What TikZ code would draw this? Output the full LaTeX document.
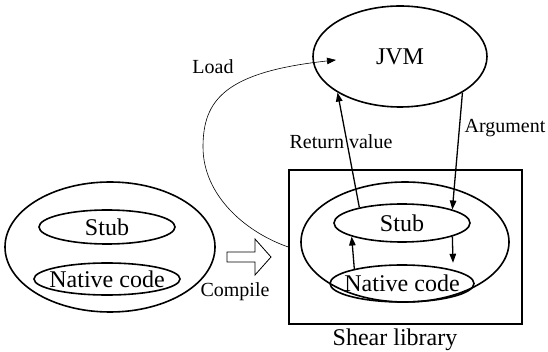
\documentclass[tikz,border=0pt]{standalone}
\usepackage{fontspec}
\setmainfont{Liberation Serif}
\usetikzlibrary{shapes.geometric,arrows.meta,calc}
\begin{document}
\begin{tikzpicture}[x=1pt,y=-1pt,
  oval/.style={draw, ellipse, line width=1.6pt, inner sep=0pt},
  big/.style={font=\fontsize{24}{28}\selectfont, inner sep=0pt},
  small/.style={font=\fontsize{20}{24}\selectfont, inner sep=0pt},
  tip/.style={-{Triangle[length=9pt,width=6.5pt]}},
  flow/.style={tip, line width=1.3pt},
]
\useasboundingbox (0,0) rectangle (548,352);

% source side: stub and native code
\node[oval, minimum width=210, minimum height=130] (outerL) at (110,247) {};
\node[oval, minimum width=136, minimum height=34] (stubL) at (107,227) {};
\node[oval, minimum width=146, minimum height=32] (nativeL) at (107,279) {};
\node[big] (stubLT) at (stubL.center) {Stub};
\node[big] (natLT) at (nativeL.center) {Native code};

% compile step
\draw[line width=0.8pt] (227,252) -- (255,252) -- (255,239) -- (271,257)
  -- (255,275) -- (255,262) -- (227,262) -- cycle;
\node[small] (compT) at (235,292) {Compile};

% shared library
\node[draw, line width=1.5pt, minimum width=233, minimum height=154, inner sep=0pt] (lib) at (405.5,247) {};
\node[big] (libT) at (395,340) {Shear library};
\node[oval, minimum width=208, minimum height=120] (outerR) at (405,242) {};
\node[oval, minimum width=136, minimum height=38] (stubR) at (402,223) {};
\node[oval, minimum width=144, minimum height=37] (nativeR) at (402,283.5) {};
\node[big] (stubRT) at (stubR.center) {Stub};
\node[big] (natRT) at (nativeR.center) {Native code};

% virtual machine
\node[oval, minimum width=174, minimum height=101] (jvm) at (400,56.5) {};
\node[big] (jvmT) at (jvm.center) {JVM};

% labels
\node[small] (loadT) at (213,67) {Load};
\node[small] (retT) at (341,142) {Return value};
\node[small] (argT) at (505,128) {Argument};

% calls between the layers
\draw[flow] (stubR.160) -- (jvm.210);
\draw[flow] (jvm.330) -- (stubR.15);
\draw[flow] (nativeR.163) -- (stubR.195);
\draw[flow, shorten >=7pt] (stubR.-15) -- (nativeR.15);

% loading the library into the VM
\draw[tip, line width=0.6pt] (lib.west) .. controls (245,232) and (203,195) .. (203,147)
  .. controls (203,100) and (225,72) .. ($(jvm.center)+(-64,3.5)$);
\end{tikzpicture}
\end{document}
